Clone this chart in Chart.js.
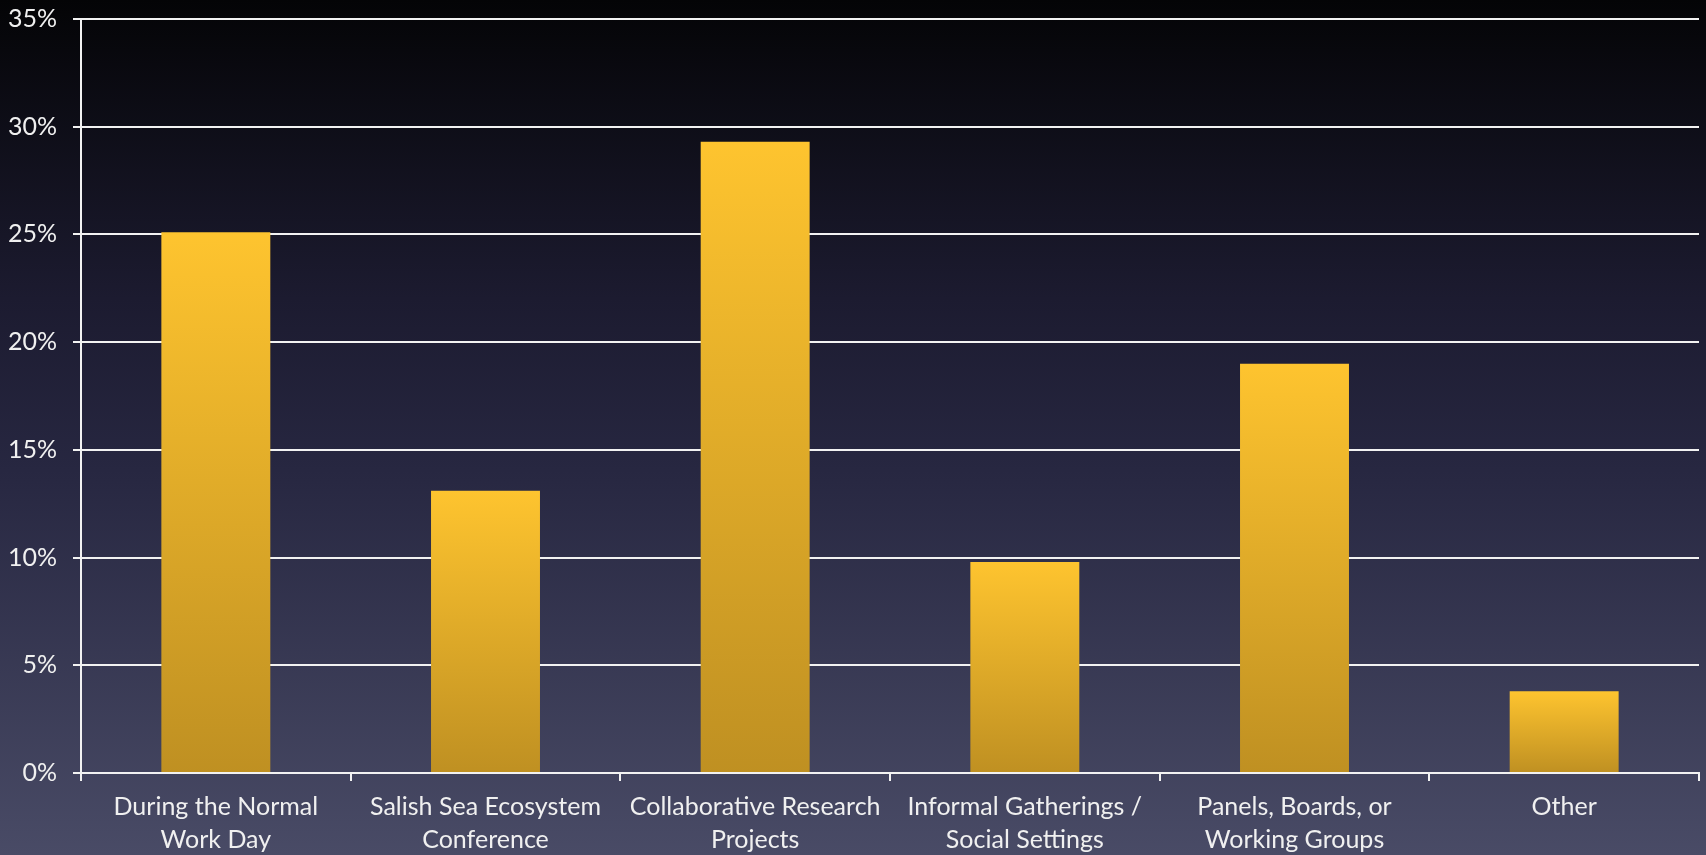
<!DOCTYPE html>
<html>
<head>
<meta charset="utf-8">
<script src="https://cdn.jsdelivr.net/npm/chart.js@4"></script>
<style>
    html, body { margin: 0; padding: 0; background: #050507; }
    #wrap { width: 1706px; height: 855px; }
</style>
</head>
<body>
<div id="wrap"><canvas id="chart" width="1706" height="855"></canvas></div>
<script>
// Chart data
const categories = [
    ['During the Normal', 'Work Day'],
    ['Salish Sea Ecosystem', 'Conference'],
    ['Collaborative Research', 'Projects'],
    ['Informal Gatherings /', 'Social Settings'],
    ['Panels, Boards, or', 'Working Groups'],
    'Other'
];
const shares = [25.1, 13.1, 29.3, 9.8, 19.0, 3.8];
const yTicks = [0, 5, 10, 15, 20, 25, 30, 35];

const FONT = "Lato, 'Open Sans', sans-serif";

// Dark slide-style background, black at the top fading to slate blue
const backgroundPlugin = {
    id: 'slideBackground',
    beforeDraw(chart) {
        const ctx = chart.ctx;
        const g = ctx.createLinearGradient(0, 0, 0, chart.height);
        g.addColorStop(0, '#040406');
        g.addColorStop(0.35, '#1c1b30');
        g.addColorStop(0.55, '#272741');
        g.addColorStop(1, '#494b66');
        ctx.save();
        ctx.fillStyle = g;
        ctx.fillRect(0, 0, chart.width, chart.height);
        ctx.restore();
    }
};

function barGradient(context) {
    const chart = context.chart;
    if (!chart.chartArea) return '#f0b72c';
    const yScale = chart.scales.y;
    const top = yScale.getPixelForValue(shares[context.dataIndex]);
    const bottom = yScale.getPixelForValue(0);
    const g = chart.ctx.createLinearGradient(0, top, 0, bottom);
    g.addColorStop(0, '#fec42f');
    g.addColorStop(1, '#bf9022');
    return g;
}

const ctx = document.getElementById('chart').getContext('2d');
new Chart(ctx, {
    type: 'bar',
    data: {
        labels: categories,
        datasets: [{
            data: shares,
            backgroundColor: barGradient,
            borderWidth: 0,
            barPercentage: 0.404,
            categoryPercentage: 1.0
        }]
    },
    options: {
        responsive: false,
        animation: false,
        layout: { padding: { top: 19, right: 7, left: 0, bottom: 0 } },
        plugins: {
            legend: { display: false },
            tooltip: { enabled: false }
        },
        scales: {
            x: {
                afterFit(scale) { scale.height = 82; },
                grid: {
                    drawOnChartArea: false,
                    drawTicks: true,
                    tickLength: 8,
                    color: '#f2f2f2',
                    lineWidth: 2,
                    offset: true
                },
                border: { color: '#f2f2f2', width: 2 },
                ticks: {
                    color: '#f0f0f0',
                    font: { family: FONT, size: 25, lineHeight: 1.3 },
                    padding: 10,
                    maxRotation: 0,
                    autoSkip: false
                }
            },
            y: {
                min: 0,
                max: 35,
                afterFit(scale) {
                    scale.width = 81;
                    // keep the plot top where the slide had it
                    scale.paddingTop = 0;
                    scale.paddingBottom = 0;
                },
                afterBuildTicks(scale) {
                    scale.ticks = yTicks.map(v => ({ value: v }));
                },
                grid: {
                    color: '#f2f2f2',
                    lineWidth: 2,
                    tickLength: 8
                },
                border: { color: '#f2f2f2', width: 2 },
                ticks: {
                    color: '#f0f0f0',
                    font: { family: FONT, size: 25 },
                    padding: 16,
                    callback: v => v + '%'
                }
            }
        }
    },
    plugins: [backgroundPlugin]
});
</script>
</body>
</html>
